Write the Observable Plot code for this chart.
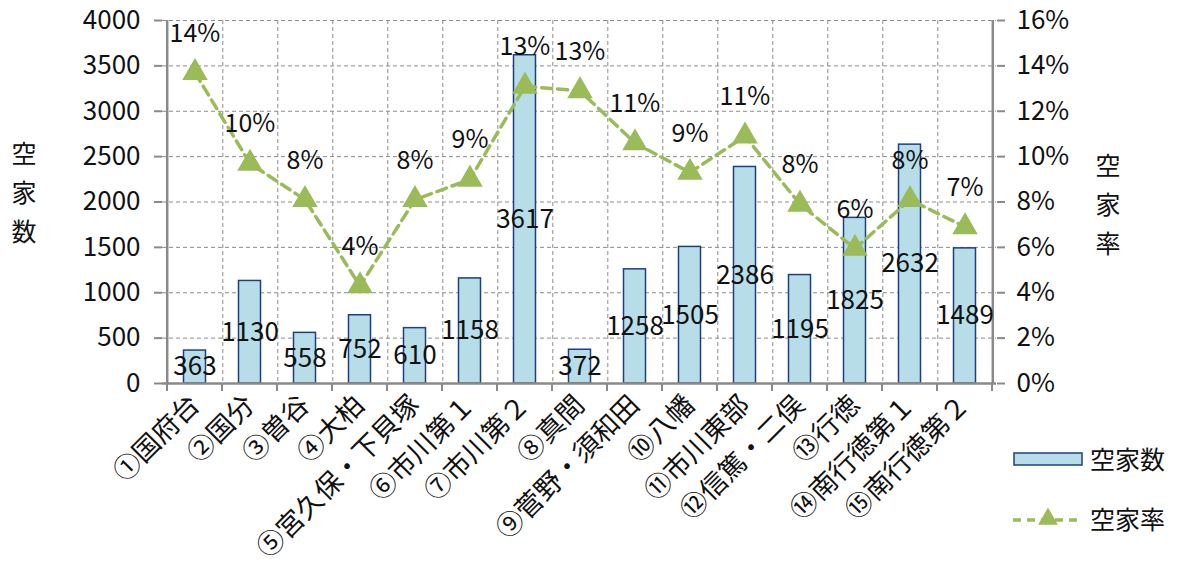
<!DOCTYPE html>
<html><head><meta charset="utf-8">
<script src="https://cdn.jsdelivr.net/npm/d3@7"></script>
<script src="https://cdn.jsdelivr.net/npm/@observablehq/plot@0.6"></script>
<style>
body{margin:0;background:#fff;}
#wrap{position:relative;width:1178px;height:569px;font-family:"Noto Sans CJK JP",sans-serif;color:#111;}
.vt{position:absolute;writing-mode:vertical-rl;font-size:25px;letter-spacing:14px;line-height:1;}
</style></head><body><div id="wrap"></div>
<script>
const categories = ["①国府台","②国分","③曽谷","④大柏","⑤宮久保・下貝塚","⑥市川第１","⑦市川第２","⑧真間","⑨菅野・須和田","⑩八幡","⑪市川東部","⑫信篤・二俣","⑬行徳","⑭南行徳第１","⑮南行徳第２"];
const counts = [363,1130,558,752,610,1158,3617,372,1258,1505,2386,1195,1825,2632,1489];
const rates = [0.137,0.097,0.081,0.043,0.081,0.090,0.131,0.129,0.106,0.093,0.109,0.079,0.0595,0.081,0.069];
const countTicks = [0,500,1000,1500,2000,2500,3000,3500,4000];
const rateTicks = [0,0.02,0.04,0.06,0.08,0.10,0.12,0.14,0.16];
const seriesNames = ["空家数","空家率"];
const leftTitle = "空家数";
const rightTitle = "空家率";

const W = 1178, H = 569, ML = 162, MR = 182, MT = 20, MB = 186;
const FONT = '"Noto Sans CJK JP", sans-serif';
const BAR_FILL = "#b7dee8", BAR_STROKE = "#1f3f7f", LINE = "#9bbb59", AXIS = "#8a8a8a", GRID = "#8c8c8c";
const SCALE = countTicks[countTicks.length-1] / rateTicks[rateTicks.length-1];
const pct = d3.format(".0%");
const data = categories.map((c,i)=>({c, n:counts[i], r:rates[i], ry:rates[i]*SCALE}));
const step = (W-ML-MR)/categories.length;

const chart = Plot.plot({
  width:W, height:H, marginLeft:ML, marginRight:MR, marginTop:MT, marginBottom:MB,
  style:{fontFamily:FONT, fontSize:"26px", color:"#111", background:"#fff", overflow:"visible"},
  x:{domain:categories, padding:0, label:null},
  y:{domain:[countTicks[0], countTicks[countTicks.length-1]], label:null},
  marks:[
    Plot.gridY(countTicks.slice(1), {stroke:GRID, strokeOpacity:1, strokeDasharray:"4,3", strokeWidth:1}),
    Plot.ruleX(categories.slice(0,-1), {x:d=>d, dx:step/2, stroke:GRID, strokeDasharray:"4,3", strokeWidth:1}),
    Plot.barY(data, {x:"c", y:"n", fill:BAR_FILL, stroke:BAR_STROKE, strokeWidth:1.5, insetLeft:16.5, insetRight:16.5}),
    Plot.ruleY([0], {stroke:AXIS, strokeWidth:2.5}),
    Plot.ruleX([categories[0]], {x:d=>d, dx:-step/2, stroke:AXIS, strokeWidth:2.5}),
    Plot.ruleX([categories[categories.length-1]], {x:d=>d, dx:step/2, stroke:AXIS, strokeWidth:2.5}),
    Plot.axisY(countTicks, {anchor:"left", tickSize:8, tickPadding:14, stroke:AXIS, strokeWidth:2, tickFormat:d3.format("d"), label:null, fill:"#111", fontSize:26}),
    Plot.axisY(rateTicks.map(r=>r*SCALE), {anchor:"right", tickSize:8, tickPadding:12, stroke:AXIS, strokeWidth:2, tickFormat:d=>pct(d/SCALE), label:null, fill:"#111", fontSize:26}),
    Plot.axisX({tickSize:0, tickRotate:-45, tickPadding:17, label:null, fill:"#111", fontSize:27}),
    Plot.lineY(data, {x:"c", y:"ry", stroke:LINE, strokeWidth:3.5, strokeDasharray:"10,6"}),
    Plot.dot(data, {x:"c", y:"ry", symbol:"triangle", r:8.5, fill:LINE, stroke:LINE}),
    Plot.text(data, {x:"c", y:d=>d.n/2, text:d=>String(d.n), fill:"#111", fontSize:26}),
    Plot.text(data, {x:"c", y:"ry", dy:-39, text:d=>pct(d.r), fill:"#111", fontSize:25})
  ]
});

// x-axis tick marks at category boundaries, from Plot's x scale
const sx = chart.scale("x");
const gT = d3.select(chart).append("g").attr("stroke", AXIS).attr("stroke-width", 2);
const bounds = categories.map(c=>sx.apply(c)).concat([sx.apply(categories[categories.length-1]) + sx.bandwidth]);
bounds.forEach(x0=>{
  gT.append("line").attr("x1",x0).attr("x2",x0).attr("y1",H-MB).attr("y2",H-MB+8);
});

const wrap = document.getElementById("wrap");
wrap.appendChild(chart);

function addDiv(cls, text, css){ const d=document.createElement("div"); d.className=cls; d.textContent=text; Object.assign(d.style, css); wrap.appendChild(d); return d; }
addDiv("vt", leftTitle, {left:"11px", top:"141px"});
addDiv("vt", rightTitle, {left:"1095px", top:"153px"});

// legend
const lg = d3.select(wrap).append("svg").attr("width",W).attr("height",H)
  .style("position","absolute").style("left","0").style("top","0").style("pointer-events","none");
lg.append("rect").attr("x",1014).attr("y",453).attr("width",68).attr("height",12)
  .attr("fill",BAR_FILL).attr("stroke",BAR_STROKE).attr("stroke-width",1.5);
lg.append("line").attr("x1",1013).attr("x2",1082).attr("y1",520).attr("y2",520)
  .attr("stroke",LINE).attr("stroke-width",3.5).attr("stroke-dasharray","8,6");
lg.append("path").attr("d", d3.symbol(d3.symbolTriangle, 170)()).attr("transform","translate(1048,519)").attr("fill",LINE);
lg.selectAll("text.lt").data(seriesNames).join("text").attr("class","lt")
  .attr("x",1090).attr("y",(d,i)=>[460,520][i]).attr("dy","0.35em")
  .attr("font-family",FONT).attr("font-size",25).attr("fill","#111").text(d=>d);
</script></body></html>
